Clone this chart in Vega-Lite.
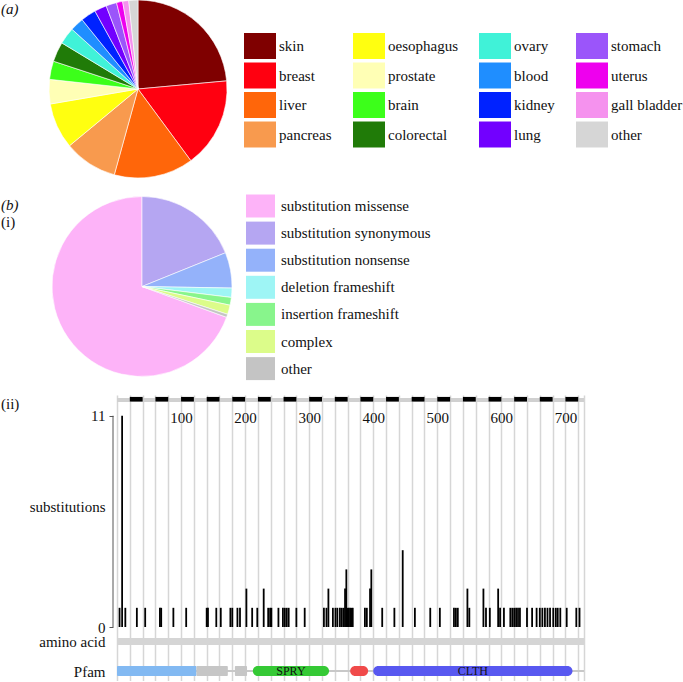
{
  "$schema": "https://vega.github.io/schema/vega-lite/v6.json",
  "background": "white",
  "padding": {"left": 1, "top": -2, "right": 0, "bottom": 0},
  "spacing": 14.5,
  "config": {
    "view": {"stroke": null},
    "font": "Liberation Serif",
    "title": {"font": "Liberation Serif", "fontSize": 15, "fontWeight": "normal", "color": "#111", "anchor": "start", "frame": "group"}
  },
  "resolve": {
    "scale": {"color": "independent", "x": "independent", "y": "independent", "theta": "independent"},
    "legend": {"color": "independent"}
  },
  "vconcat": [
    {
      "width": 42,
      "height": 178,
      "title": {"text": "(a)", "dx": -116, "offset": -18, "fontStyle": "italic"},
      "data": {
        "values": [
          {"tissue": "skin", "n": 85, "rank": 1},
          {"tissue": "breast", "n": 59, "rank": 2},
          {"tissue": "liver", "n": 52, "rank": 3},
          {"tissue": "pancreas", "n": 35, "rank": 4},
          {"tissue": "oesophagus", "n": 30, "rank": 5},
          {"tissue": "prostate", "n": 16, "rank": 6},
          {"tissue": "brain", "n": 12, "rank": 7},
          {"tissue": "colorectal", "n": 13, "rank": 8},
          {"tissue": "ovary", "n": 11, "rank": 9},
          {"tissue": "blood", "n": 9, "rank": 10},
          {"tissue": "kidney", "n": 10, "rank": 11},
          {"tissue": "lung", "n": 8, "rank": 12},
          {"tissue": "stomach", "n": 7, "rank": 13},
          {"tissue": "uterus", "n": 4, "rank": 14},
          {"tissue": "gall bladder", "n": 4, "rank": 15},
          {"tissue": "other", "n": 6, "rank": 16}
        ]
      },
      "mark": {"type": "arc", "outerRadius": 89, "stroke": "white", "strokeWidth": 0.6},
      "encoding": {
        "theta": {"field": "n", "type": "quantitative", "stack": true},
        "order": {"field": "rank", "type": "quantitative", "sort": "ascending"},
        "color": {
          "field": "tissue",
          "type": "nominal",
          "scale": {
            "domain": ["skin", "breast", "liver", "pancreas", "oesophagus", "prostate", "brain", "colorectal", "ovary", "blood", "kidney", "lung", "stomach", "uterus", "gall bladder", "other"],
            "range": ["#7f0000", "#ff0010", "#ff660a", "#f89a4e", "#ffff10", "#ffffb5", "#3cff1a", "#207b08", "#40f2d8", "#1f8eff", "#0022ff", "#7200ff", "#9b55fa", "#ee00ee", "#f592ee", "#d6d6d6"]
          },
          "legend": {
            "title": null,
            "orient": "none",
            "legendX": 130,
            "legendY": 33,
            "columns": 4,
            "symbolType": "M-1.2308,-1L1.2308,-1L1.2308,1L-1.2308,1Z",
            "symbolSize": 676,
            "symbolStrokeWidth": 0,
            "symbolOpacity": 1,
            "labelFont": "Liberation Serif",
            "labelFontSize": 15,
            "labelColor": "#111",
            "labelOffset": 6,
            "rowPadding": 3.5,
            "columnPadding": 20,
            "labelLimit": 200
          }
        }
      }
    },
    {
      "width": 50,
      "height": 180,
      "title": {"text": "(b)", "subtitle": "(i)", "dx": -116, "offset": -35, "fontStyle": "italic", "subtitleFont": "Liberation Serif", "subtitleFontSize": 15, "subtitleFontStyle": "normal", "subtitleColor": "#111", "subtitlePadding": 2},
      "data": {
        "values": [
          {"type": "substitution missense", "n": 250, "rank": 7},
          {"type": "substitution synonymous", "n": 68, "rank": 1},
          {"type": "substitution nonsense", "n": 23, "rank": 2},
          {"type": "deletion frameshift", "n": 6, "rank": 3},
          {"type": "insertion frameshift", "n": 5, "rank": 4},
          {"type": "complex", "n": 6, "rank": 5},
          {"type": "other", "n": 2, "rank": 6}
        ]
      },
      "mark": {"type": "arc", "outerRadius": 90, "stroke": "white", "strokeWidth": 0.6},
      "encoding": {
        "theta": {"field": "n", "type": "quantitative", "stack": true},
        "order": {"field": "rank", "type": "quantitative", "sort": "ascending"},
        "color": {
          "field": "type",
          "type": "nominal",
          "scale": {
            "domain": ["substitution missense", "substitution synonymous", "substitution nonsense", "deletion frameshift", "insertion frameshift", "complex", "other"],
            "range": ["#fdb3f8", "#b5a6f2", "#94b2fa", "#9ef5f5", "#88f58c", "#dcfc8a", "#c4c4c4"]
          },
          "legend": {
            "title": null,
            "orient": "none",
            "direction": "vertical",
            "legendX": 132,
            "legendY": -2,
            "symbolType": "M-1.2609,-1L1.2609,-1L1.2609,1L-1.2609,1Z",
            "symbolSize": 529,
            "symbolStrokeWidth": 0,
            "symbolOpacity": 1,
            "labelFont": "Liberation Serif",
            "labelFontSize": 15,
            "labelColor": "#111",
            "labelOffset": 9,
            "rowPadding": 4.1,
            "labelLimit": 250
          }
        }
      }
    },
    {
      "width": 467,
      "height": 286,
      "title": {"text": "(ii)", "dx": -116, "offset": -17},
      "layer": [
        {
          "data": {"values": [{"start": 0, "end": 729}]},
          "mark": {"type": "rect", "color": "#d0d0d0"},
          "encoding": {
            "x": {"field": "start", "type": "quantitative"},
            "x2": {"field": "end"},
            "y": {"datum": 11.72},
            "y2": {"datum": 11.93}
          }
        },
        {
          "data": {
            "values": [
              {"start": 20, "end": 40}, {"start": 60, "end": 80}, {"start": 100, "end": 120},
              {"start": 140, "end": 160}, {"start": 180, "end": 200}, {"start": 220, "end": 240},
              {"start": 260, "end": 280}, {"start": 300, "end": 320}, {"start": 340, "end": 360},
              {"start": 380, "end": 400}, {"start": 420, "end": 440}, {"start": 460, "end": 480},
              {"start": 500, "end": 520}, {"start": 540, "end": 560}, {"start": 580, "end": 600},
              {"start": 620, "end": 640}, {"start": 660, "end": 680}, {"start": 700, "end": 720}
            ]
          },
          "mark": {"type": "rect", "color": "#000"},
          "encoding": {
            "x": {"field": "start", "type": "quantitative"},
            "x2": {"field": "end"},
            "y": {"datum": 11.74},
            "y2": {"datum": 11.98}
          }
        },
        {
          "data": {"values": [{"start": 0, "end": 729}]},
          "mark": {"type": "rect", "color": "#d5d5d5"},
          "encoding": {
            "x": {"field": "start", "type": "quantitative"},
            "x2": {"field": "end"},
            "y": {"datum": -0.57},
            "y2": {"datum": -0.94}
          }
        },
        {
          "data": {"values": [{"start": 0, "end": 729}]},
          "mark": {"type": "rule", "color": "#c8c8c8", "strokeWidth": 2},
          "encoding": {
            "x": {"field": "start", "type": "quantitative"},
            "x2": {"field": "end"},
            "y": {"datum": -2.29}
          }
        },
        {
          "data": {
            "values": [
              {"name": "N-terminal region", "start": 0, "end": 124, "kind": "region"},
              {"name": "low complexity", "start": 124, "end": 173, "kind": "region"},
              {"name": "disordered", "start": 184, "end": 203, "kind": "region"},
              {"name": "SPRY", "start": 212, "end": 331, "kind": "domain"},
              {"name": "LisH", "start": 364, "end": 392, "kind": "domain"},
              {"name": "CLTH", "start": 400, "end": 711, "kind": "domain"}
            ]
          },
          "layer": [
            {
              "transform": [{"filter": "datum.kind == 'region'"}],
              "mark": {"type": "rect", "cornerRadius": 1},
              "encoding": {
                "x": {"field": "start", "type": "quantitative"},
                "x2": {"field": "end"},
                "y": {"datum": -2.03},
                "y2": {"datum": -2.55},
                "color": {"field": "name", "type": "nominal", "legend": null,
                  "scale": {"domain": ["N-terminal region", "low complexity", "disordered", "SPRY", "LisH", "CLTH"], "range": ["#82b9f2", "#c6c6c6", "#c6c6c6", "#35c935", "#f04a4a", "#5858f0"]}}
              }
            },
            {
              "transform": [{"filter": "datum.kind == 'domain'"}],
              "mark": {"type": "rect", "cornerRadius": 5},
              "encoding": {
                "x": {"field": "start", "type": "quantitative"},
                "x2": {"field": "end"},
                "y": {"datum": -2.03},
                "y2": {"datum": -2.55},
                "color": {"field": "name", "type": "nominal", "legend": null}
              }
            },
            {
              "transform": [
                {"filter": "datum.name == 'SPRY' || datum.name == 'CLTH'"},
                {"calculate": "(datum.start + datum.end) / 2", "as": "mid"}
              ],
              "mark": {"type": "text", "font": "Liberation Serif", "fontSize": 12, "color": "#111", "baseline": "middle", "align": "center"},
              "encoding": {
                "x": {"field": "mid", "type": "quantitative"},
                "y": {"datum": -2.29},
                "text": {"field": "name"}
              }
            }
          ]
        },
        {
          "data": {"values": [{}]},
          "mark": {"type": "rule", "color": "#555", "strokeWidth": 1},
          "encoding": {
            "x": {"datum": -6.24},
            "y": {"datum": 0},
            "y2": {"datum": 11}
          }
        },
        {
          "data": {
            "values": [
              {"pos": 4, "n": 1}, {"pos": 8, "n": 11}, {"pos": 13, "n": 1}, {"pos": 31, "n": 1}, {"pos": 44, "n": 1},
              {"pos": 67, "n": 1}, {"pos": 69, "n": 1}, {"pos": 88, "n": 1}, {"pos": 108, "n": 1}, {"pos": 140, "n": 1},
              {"pos": 142, "n": 1}, {"pos": 155, "n": 1}, {"pos": 162, "n": 1}, {"pos": 177, "n": 1}, {"pos": 180, "n": 1},
              {"pos": 188, "n": 1}, {"pos": 192, "n": 1}, {"pos": 202, "n": 2}, {"pos": 211, "n": 1}, {"pos": 219, "n": 1},
              {"pos": 229, "n": 2}, {"pos": 236, "n": 1}, {"pos": 239, "n": 1}, {"pos": 241, "n": 1}, {"pos": 252, "n": 1},
              {"pos": 259, "n": 1}, {"pos": 262, "n": 1}, {"pos": 265, "n": 1}, {"pos": 268, "n": 1}, {"pos": 280, "n": 1},
              {"pos": 293, "n": 1}, {"pos": 323, "n": 1}, {"pos": 327, "n": 1}, {"pos": 330, "n": 2}, {"pos": 337, "n": 1},
              {"pos": 341, "n": 1}, {"pos": 344, "n": 1}, {"pos": 348, "n": 1}, {"pos": 351, "n": 1}, {"pos": 354, "n": 1},
              {"pos": 356, "n": 2}, {"pos": 358, "n": 3}, {"pos": 360, "n": 1}, {"pos": 362, "n": 1}, {"pos": 364, "n": 1},
              {"pos": 366, "n": 1}, {"pos": 368, "n": 1}, {"pos": 387, "n": 1}, {"pos": 390, "n": 1}, {"pos": 395, "n": 2},
              {"pos": 397, "n": 3}, {"pos": 414, "n": 1}, {"pos": 433, "n": 1}, {"pos": 446, "n": 4}, {"pos": 465, "n": 1},
              {"pos": 489, "n": 1}, {"pos": 504, "n": 1}, {"pos": 526, "n": 1}, {"pos": 529, "n": 1}, {"pos": 532, "n": 1},
              {"pos": 547, "n": 2}, {"pos": 550, "n": 1}, {"pos": 572, "n": 2}, {"pos": 576, "n": 1}, {"pos": 582, "n": 1},
              {"pos": 595, "n": 2}, {"pos": 598, "n": 1}, {"pos": 604, "n": 1}, {"pos": 614, "n": 1}, {"pos": 617, "n": 1},
              {"pos": 620, "n": 1}, {"pos": 623, "n": 1}, {"pos": 626, "n": 1}, {"pos": 629, "n": 1}, {"pos": 640, "n": 1},
              {"pos": 648, "n": 1}, {"pos": 655, "n": 1}, {"pos": 660, "n": 1}, {"pos": 664, "n": 1}, {"pos": 668, "n": 1},
              {"pos": 672, "n": 1}, {"pos": 676, "n": 1}, {"pos": 681, "n": 1}, {"pos": 685, "n": 1}, {"pos": 688, "n": 1},
              {"pos": 692, "n": 1}, {"pos": 702, "n": 1}, {"pos": 717, "n": 1}, {"pos": 722, "n": 1}
            ]
          },
          "mark": {"type": "rule", "color": "#000", "strokeWidth": 1.8},
          "encoding": {
            "x": {
              "field": "pos",
              "type": "quantitative",
              "scale": {"domain": [0, 729], "nice": false, "zero": false},
              "axis": {
                "orient": "top",
                "title": null,
                "values": [0, 20, 40, 60, 80, 100, 120, 140, 160, 180, 200, 220, 240, 260, 280, 300, 320, 340, 360, 380, 400, 420, 440, 460, 480, 500, 520, 540, 560, 580, 600, 620, 640, 660, 680, 700, 720, 729],
                "tickCount": 100,
                "grid": true,
                "gridColor": "#d6d6d6",
                "gridWidth": 1.5,
                "ticks": false,
                "domain": false,
                "labelExpr": "datum.value > 0 && datum.value % 100 == 0 ? datum.label : ''",
                "labelPadding": -30,
                "labelFont": "Liberation Serif",
                "labelFontSize": 15,
                "labelColor": "#111",
                "labelOverlap": false,
                "labelFlush": false
              }
            },
            "y": {
              "field": "n",
              "type": "quantitative",
              "scale": {"domain": [-2.81, 12.08], "nice": false, "zero": false},
              "axis": {
                "orient": "left",
                "title": null,
                "values": [11, 6.25, 0, -0.755, -2.29],
                "tickCount": 20,
                "labelExpr": "datum.value > 10 ? '11' : datum.value > 5 ? 'substitutions' : datum.value > -0.5 ? '0' : datum.value > -1.5 ? 'amino acid' : 'Pfam'",
                "grid": false,
                "domain": false,
                "ticks": true,
                "tickSize": 4,
                "tickWidth": 1,
                "tickColor": {"condition": {"test": "datum.value == 11 || datum.value == 0", "value": "#555"}, "value": "transparent"},
                "offset": 4,
                "labelPadding": 4,
                "labelFont": "Liberation Serif",
                "labelFontSize": 15,
                "labelColor": "#111",
                "labelOverlap": false
              }
            },
            "y2": {"datum": 0}
          }
        }
      ]
    }
  ]
}
